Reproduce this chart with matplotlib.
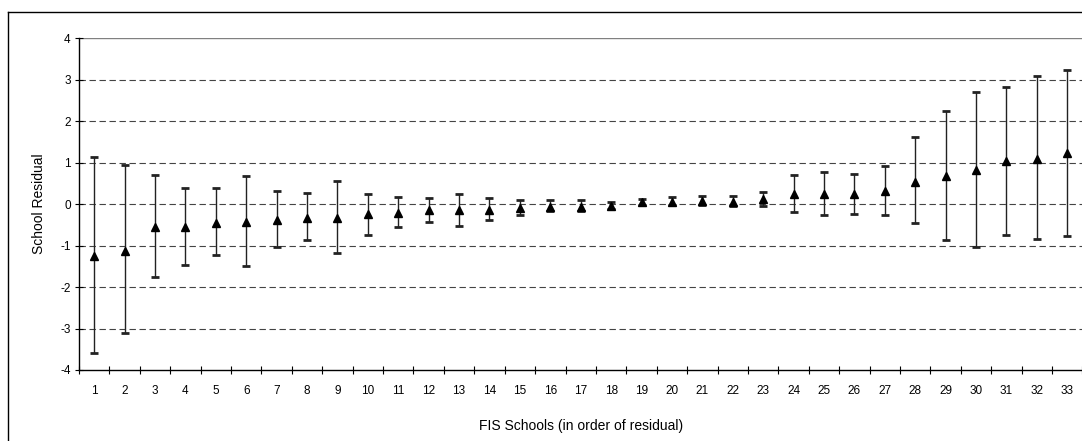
import matplotlib.pyplot as plt
import numpy as np
from matplotlib.lines import Line2D

plt.rcParams['font.family'] = ['Liberation Sans', 'DejaVu Sans']
plt.rcParams['lines.scale_dashes'] = False
plt.rcParams['axes.unicode_minus'] = False

# school residuals (ranked) with lower / upper interval ends
schools = np.arange(1, 34)
residual = [-1.25, -1.13, -0.56, -0.56, -0.45, -0.43, -0.39, -0.33, -0.33, -0.25,
            -0.22, -0.15, -0.15, -0.14, -0.10, -0.08, -0.08, -0.04, 0.04, 0.06,
            0.07, 0.05, 0.11, 0.23, 0.23, 0.23, 0.32, 0.54, 0.68, 0.83,
            1.03, 1.09, 1.22]
lower = [-3.59, -3.11, -1.77, -1.46, -1.23, -1.49, -1.04, -0.87, -1.17, -0.75,
         -0.56, -0.43, -0.52, -0.39, -0.27, -0.16, -0.16, -0.11, -0.03, -0.03,
         -0.03, -0.05, -0.05, -0.20, -0.27, -0.23, -0.27, -0.46, -0.87, -1.04,
         -0.75, -0.84, -0.78]
upper = [1.14, 0.93, 0.69, 0.38, 0.38, 0.67, 0.31, 0.27, 0.56, 0.25,
         0.18, 0.15, 0.24, 0.14, 0.09, 0.09, 0.09, 0.06, 0.12, 0.16,
         0.19, 0.19, 0.28, 0.69, 0.76, 0.72, 0.92, 1.62, 2.24, 2.71,
         2.83, 3.09, 3.22]

res = np.array(residual)
yerr = [res - np.array(lower), np.array(upper) - res]

fig = plt.figure(figsize=(10.82, 4.41), dpi=100)
ax = fig.add_axes([0.073, 0.161, 0.9274, 0.7528])

# outer chart border (left and top visible)
fig.add_artist(Line2D([8 / 1082, 8 / 1082], [0, 1 - 12 / 441], transform=fig.transFigure,
                      color='black', lw=1))
fig.add_artist(Line2D([8 / 1082, 1], [1 - 12 / 441, 1 - 12 / 441], transform=fig.transFigure,
                      color='black', lw=1))

for v in [-3, -2, -1, 0, 1, 2, 3]:
    ax.axhline(v, color='#444444', lw=0.8, linestyle=(0, (4.6, 2.6)), zorder=1)
ax.axhline(4, color='#808080', lw=1, zorder=1)

ax.errorbar(schools, residual, yerr=yerr, fmt='^', color='black', ecolor='#222222',
            elinewidth=1, capsize=3.2, capthick=2, markersize=5.5, zorder=3)

ax.set_xlim(0.5, 33.5)
ax.set_ylim(-4, 4)
ax.set_yticks(np.arange(-4, 5, 1))
ax.set_xticks(schools)
ax.set_xticks(np.arange(0.5, 34, 1), minor=True)
ax.tick_params(axis='x', which='major', length=0, pad=11, labelsize=8.5)
ax.tick_params(axis='x', which='minor', direction='inout', length=6, width=0.8)
ax.tick_params(axis='y', direction='inout', length=6, width=0.8, pad=3, labelsize=8.5)

for s in ['top', 'right']:
    ax.spines[s].set_visible(False)
ax.spines['left'].set_linewidth(1)
ax.spines['bottom'].set_linewidth(1)

ax.set_ylabel('School Residual', fontsize=10, labelpad=10)
ax.set_xlabel('FIS Schools (in order of residual)', fontsize=10, labelpad=16)

fig.savefig('out.png', dpi=100)
